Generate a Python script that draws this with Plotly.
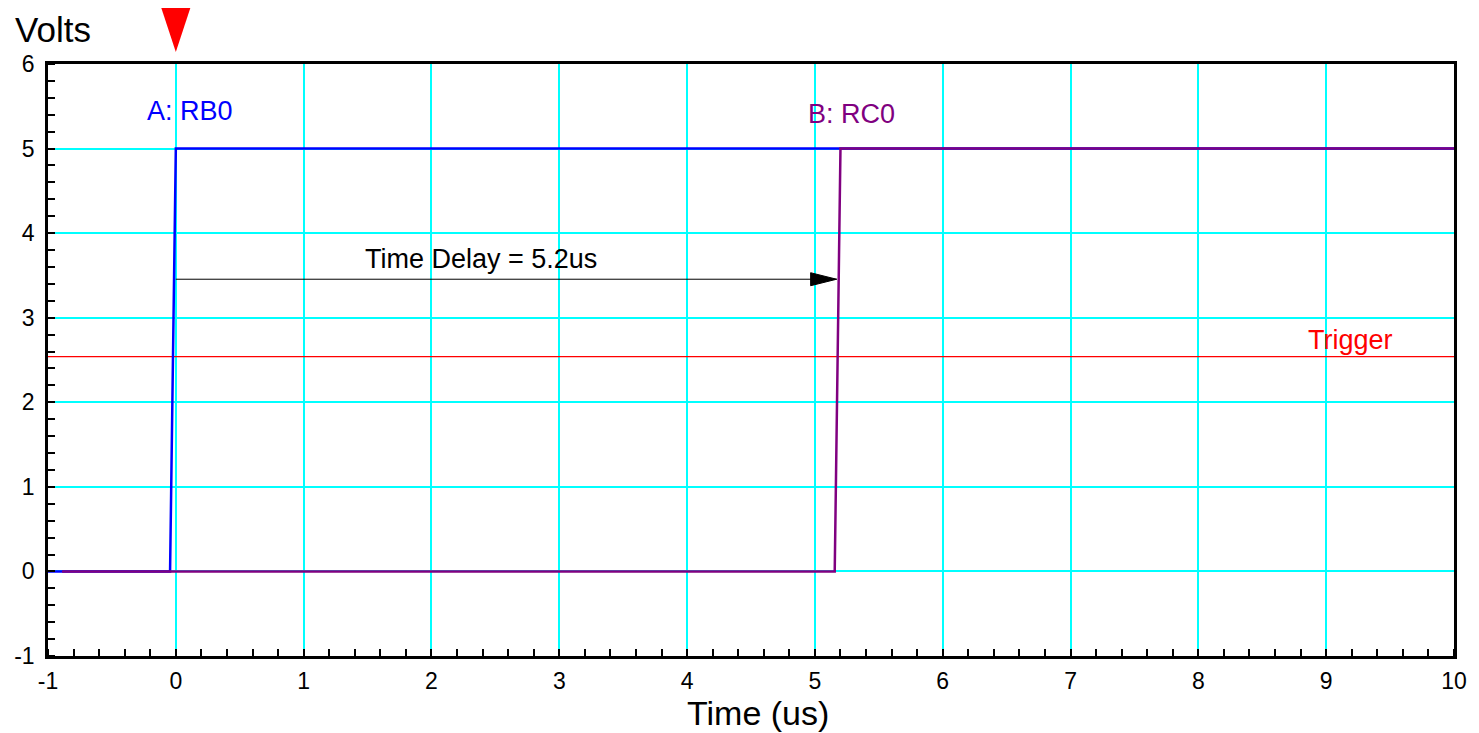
import plotly.graph_objects as go

# ---- data ----
time_rb0 = [-1.0, -0.045, 0.0, 10.0]
volts_rb0 = [0.0, 0.0, 5.0, 5.0]
time_rc0 = [-0.89, 5.155, 5.2, 10.0]
volts_rc0 = [0.0, 0.0, 5.0, 5.0]
trigger_level = 2.54
trigger_time = 0.0
delay_start = 0.0
delay_end = 5.17
delay_level = 3.455
delay_label = "Time Delay = 5.2us"
x_ticks = list(range(-1, 11))
x_tick_labels = [str(v) for v in x_ticks]
y_ticks = list(range(-1, 7))
y_tick_labels = [str(v) for v in y_ticks]
x_range = [-1, 10]
y_range = [-1, 6]

FONT = "Liberation Sans, Arial, Helvetica, sans-serif"
BLUE = "#0000FF"
PURPLE = "#800080"
RED = "#FF0000"
CYAN = "#00FFFF"

fig = go.Figure()

# trigger level line
fig.add_trace(go.Scatter(x=x_range, y=[trigger_level, trigger_level], mode="lines",
                         line=dict(color=RED, width=1.2), hoverinfo="skip", showlegend=False))
# channel A: RB0
fig.add_trace(go.Scatter(x=time_rb0, y=volts_rb0, mode="lines",
                         line=dict(color=BLUE, width=2.5), name="A: RB0", showlegend=False))
# channel B: RC0
fig.add_trace(go.Scatter(x=time_rc0, y=volts_rc0, mode="lines",
                         line=dict(color=PURPLE, width=2.5), name="B: RC0", showlegend=False))
# delay arrow shaft
fig.add_trace(go.Scatter(x=[delay_start, delay_end], y=[delay_level, delay_level], mode="lines",
                         line=dict(color="black", width=1), hoverinfo="skip", showlegend=False))

# arrow head (pixel-sized, anchored at the arrow end)
fig.add_shape(type="path", xref="x", yref="y",
              xsizemode="pixel", xanchor=delay_end,
              ysizemode="pixel", yanchor=delay_level,
              path="M-26,-6.5 L0,0 L-26,6.5 Z",
              fillcolor="black", line=dict(color="black", width=1), layer="above")

# trigger marker triangle above the plot at the trigger time
fig.add_shape(type="path", xref="x", yref="paper",
              xsizemode="pixel", xanchor=trigger_time,
              path="M-14.5,1.0946 L14.5,1.0946 L0,1.0203 Z",
              fillcolor=RED, line=dict(color=RED, width=0), layer="above")

annotations = [
    dict(text="A: RB0", x=0.113, y=5.44, xref="x", yref="y", showarrow=False,
         font=dict(family=FONT, size=27, color=BLUE), xanchor="center", yanchor="middle"),
    dict(text="B: RC0", x=5.286, y=5.41, xref="x", yref="y", showarrow=False,
         font=dict(family=FONT, size=27, color=PURPLE), xanchor="center", yanchor="middle"),
    dict(text="Trigger", x=9.19, y=2.74, xref="x", yref="y", showarrow=False,
         font=dict(family=FONT, size=27, color=RED), xanchor="center", yanchor="middle"),
    dict(text=delay_label, x=2.39, y=3.70, xref="x", yref="y", showarrow=False,
         font=dict(family=FONT, size=27, color="black"), xanchor="center", yanchor="middle"),
    dict(text="Volts", x=-0.025, y=1.058, xref="paper", yref="paper", showarrow=False,
         font=dict(family=FONT, size=35, color="black"), xanchor="left", yanchor="middle"),
    dict(text="Time (us)", x=0.505, y=-0.097, xref="paper", yref="paper", showarrow=False,
         font=dict(family=FONT, size=34, color="black"), xanchor="center", yanchor="middle"),
]

axis_common = dict(
    showline=True, linecolor="black", linewidth=2.5, mirror=True,
    showgrid=True, gridcolor=CYAN, gridwidth=1.6, zeroline=False,
    ticks="", tickfont=dict(family=FONT, size=23, color="black"),
    minor=dict(dtick=0.2, ticks="inside", ticklen=7, tickcolor="black", tickwidth=1.5, showgrid=False),
)

fig.update_layout(
    width=1479, height=733,
    margin=dict(l=48, r=20, t=64, b=77),
    paper_bgcolor="white", plot_bgcolor="white",
    showlegend=False,
    annotations=annotations,
    xaxis=dict(range=x_range, tickmode="array", tickvals=x_ticks, ticktext=x_tick_labels,
               ticklabelstandoff=3, **axis_common),
    yaxis=dict(range=y_range, tickmode="array", tickvals=y_ticks, ticktext=y_tick_labels,
               ticklabelstandoff=6, **axis_common),
)

fig.write_html("out.html")
